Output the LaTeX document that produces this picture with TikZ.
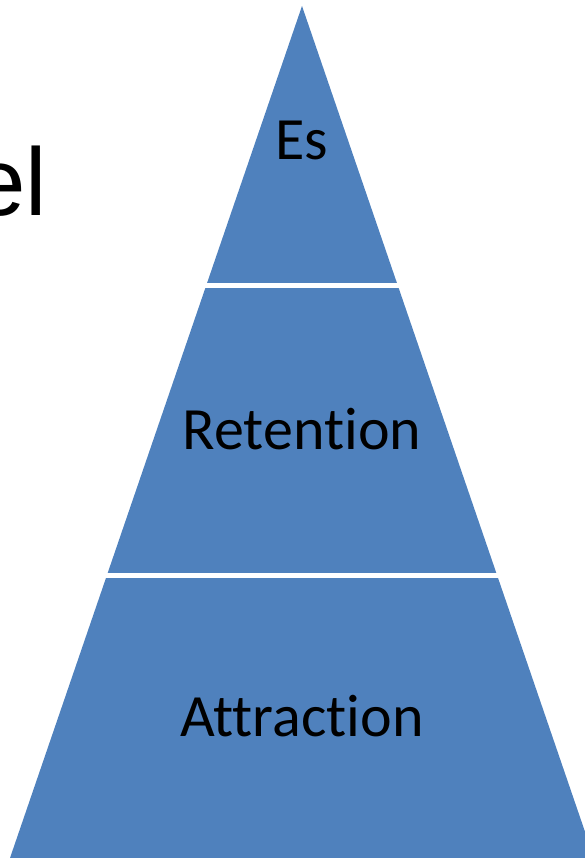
\documentclass[tikz,border=0pt]{standalone}
\usepackage{fontspec}
\setmainfont{Carlito}[Ligatures=NoCommon]
\newfontfamily\titlefont{Liberation Sans}
\definecolor{pyrblue}{HTML}{4F81BD}
\tikzset{
  layer/.style={fill=pyrblue},
  lbl/.style={anchor=base,inner sep=0pt,font=\fontsize{60}{60}\selectfont}
}
\begin{document}
\begin{tikzpicture}[x=1pt,y=1pt]
\useasboundingbox (0,0) rectangle (585,858);
% pyramid
\fill[layer] (302,852) -- (10,0) -- (594,0) -- cycle;
\foreach \y in {570,280} {
  \fill[white] (0,\y) rectangle (585,\y+5);
}
% labels
\node[lbl] (es) at (302,698) {Es};
\node[lbl] (retention) at (302,408) {Retention};
\node[lbl] (attraction) at (302,121) {Attraction};
% clipped title
\node[anchor=base east,inner sep=0pt,font=\titlefont\fontsize{96}{96}\selectfont] (title) at (47,642) {el};
\end{tikzpicture}
\end{document}
